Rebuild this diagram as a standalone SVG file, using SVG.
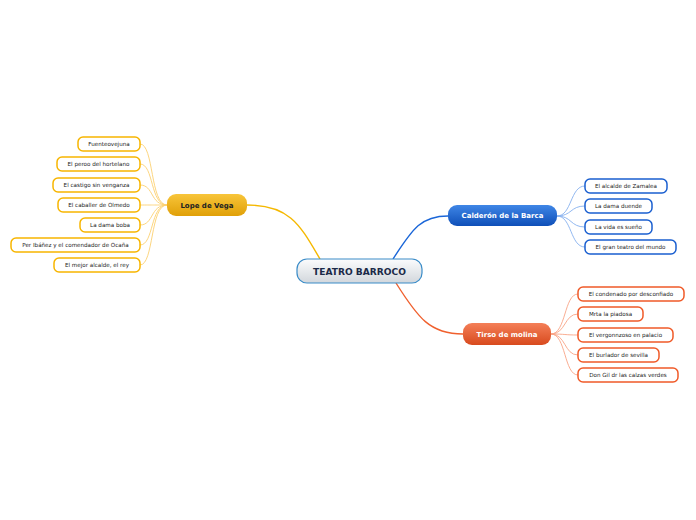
<svg xmlns="http://www.w3.org/2000/svg" width="696" height="520" viewBox="0 0 696 520">
<style>
text{font-family:"DejaVu Sans",Verdana,sans-serif;text-anchor:middle;dominant-baseline:central}
.c{font-size:5.6px;fill:#222}
.lc rect{fill:#fff;stroke:#f7b500;stroke-width:1.5}
.cc rect{fill:#fff;stroke:#1a5fd0;stroke-width:1.5}
.tc rect{fill:#fff;stroke:#f05a28;stroke-width:1.5}
.b{font-size:7px;font-weight:bold}
.conn path{fill:none}
.ly{stroke:#fcd070;stroke-width:0.9}
.lb{stroke:#86b0ee;stroke-width:0.9}
.lo{stroke:#f8a486;stroke-width:0.9}
</style>
<defs>
<linearGradient id="gC" x1="0" y1="0" x2="0" y2="1"><stop offset="0" stop-color="#fbfcfd"/><stop offset="1" stop-color="#d2d7dc"/></linearGradient>
<linearGradient id="gL" x1="0" y1="0" x2="0" y2="1"><stop offset="0" stop-color="#f8c53a"/><stop offset="1" stop-color="#e0a008"/></linearGradient>
<linearGradient id="gB" x1="0" y1="0" x2="0" y2="1"><stop offset="0" stop-color="#3f86e6"/><stop offset="1" stop-color="#0f4fb8"/></linearGradient>
<linearGradient id="gT" x1="0" y1="0" x2="0" y2="1"><stop offset="0" stop-color="#f47f58"/><stop offset="1" stop-color="#d84a1e"/></linearGradient>
</defs>
<rect width="696" height="520" fill="#fff"/>
<g class="conn" id="connectors">
<path d="M320 259 C300 225 290 205 247 205" stroke="#f5b800" stroke-width="1.4"/>
<path d="M393 259 C412 230 420 216 448 216" stroke="#1a66d8" stroke-width="1.4"/>
<path d="M396 283 C418 318 430 334 463 334" stroke="#f0602e" stroke-width="1.4"/>
<path class="ly" d="M167 205 C150 205 154 144 140 144"/>
<path class="ly" d="M167 205 C150 205 154 164 140 164"/>
<path class="ly" d="M167 205 C150 205 154 185 140 185"/>
<path class="ly" d="M167 205 C150 205 154 205 140 205"/>
<path class="ly" d="M167 205 C150 205 154 225 140 225"/>
<path class="ly" d="M167 205 C150 205 154 245 140 245"/>
<path class="ly" d="M167 205 C150 205 154 265 140 265"/>
<path class="lb" d="M557 216 C572 216 570 186 585 186"/>
<path class="lb" d="M557 216 C572 216 570 206 585 206"/>
<path class="lb" d="M557 216 C572 216 570 227 585 227"/>
<path class="lb" d="M557 216 C572 216 570 247 585 247"/>
<path class="lo" d="M551 334 C566 334 564 294 578 294"/>
<path class="lo" d="M551 334 C566 334 564 314 578 314"/>
<path class="lo" d="M551 334 C566 334 564 335 578 335"/>
<path class="lo" d="M551 334 C566 334 564 355 578 355"/>
<path class="lo" d="M551 334 C566 334 564 375 578 375"/>
</g>
<g id="center"><rect x="297" y="259" width="125" height="24" rx="10" fill="url(#gC)" stroke="#3a8cc8" stroke-width="1.2"/><text x="359.5" y="271.5" font-size="9.1px" font-weight="bold" fill="#1b2a48">TEATRO BARROCO</text></g>
<g id="lope"><rect x="167" y="194" width="80" height="22" rx="9" fill="url(#gL)"/><text class="b" x="207" y="205.5" fill="#222">Lope de Vega</text></g>
<g id="calderon"><rect x="448" y="205" width="109" height="21" rx="9" fill="url(#gB)"/><text class="b" x="502.5" y="216" fill="#fff">Calderón de la Barca</text></g>
<g id="tirso"><rect x="463" y="323" width="88" height="22" rx="9" fill="url(#gT)"/><text class="b" x="507" y="334.5" fill="#fff">Tirso de molina</text></g>
<g id="l1" class="lc"><rect x="78" y="137" width="62" height="14" rx="5"/><text class="c" x="109" y="144">Fuenteovejuna</text></g>
<g id="l2" class="lc"><rect x="57" y="157" width="83" height="14" rx="5"/><text class="c" x="98.5" y="164">El peroo del hortelano</text></g>
<g id="l3" class="lc"><rect x="53" y="178" width="87" height="14" rx="5"/><text class="c" x="96.5" y="185">El castigo sin venganza</text></g>
<g id="l4" class="lc"><rect x="58" y="198" width="82" height="14" rx="5"/><text class="c" x="99" y="205">El caballer de Olmedo</text></g>
<g id="l5" class="lc"><rect x="80" y="218" width="60" height="14" rx="5"/><text class="c" x="110" y="225">La dama boba</text></g>
<g id="l6" class="lc"><rect x="11" y="238" width="129" height="14" rx="5"/><text class="c" x="75.5" y="245">Per Ibáñez y el comendador de Ocaña</text></g>
<g id="l7" class="lc"><rect x="54" y="258" width="86" height="14" rx="5"/><text class="c" x="97" y="265">El mejor alcalde, el rey</text></g>
<g id="c1" class="cc"><rect x="585" y="179" width="82" height="14" rx="5"/><text class="c" x="626" y="186">El alcalde de Zamalea</text></g>
<g id="c2" class="cc"><rect x="585" y="199" width="67" height="14" rx="5"/><text class="c" x="618.5" y="206">La dama duende</text></g>
<g id="c3" class="cc"><rect x="585" y="220" width="67" height="14" rx="5"/><text class="c" x="618.5" y="227">La vida es sueño</text></g>
<g id="c4" class="cc"><rect x="585" y="240" width="91" height="14" rx="5"/><text class="c" x="630.5" y="247">El gran teatro del mundo</text></g>
<g id="t1" class="tc"><rect x="578" y="287" width="106" height="14" rx="5"/><text class="c" x="631" y="294">El condenado por desconfiado</text></g>
<g id="t2" class="tc"><rect x="578" y="307" width="65" height="14" rx="5"/><text class="c" x="610.5" y="314">Mrta la piadosa</text></g>
<g id="t3" class="tc"><rect x="578" y="328" width="95" height="14" rx="5"/><text class="c" x="625.5" y="335">El vergonnzoso en palacio</text></g>
<g id="t4" class="tc"><rect x="578" y="348" width="81" height="14" rx="5"/><text class="c" x="618.5" y="355">El burlador de sevilla</text></g>
<g id="t5" class="tc"><rect x="578" y="368" width="100" height="14" rx="5"/><text class="c" x="628" y="375">Don Gil dr las calzas verdes</text></g>
</svg>
